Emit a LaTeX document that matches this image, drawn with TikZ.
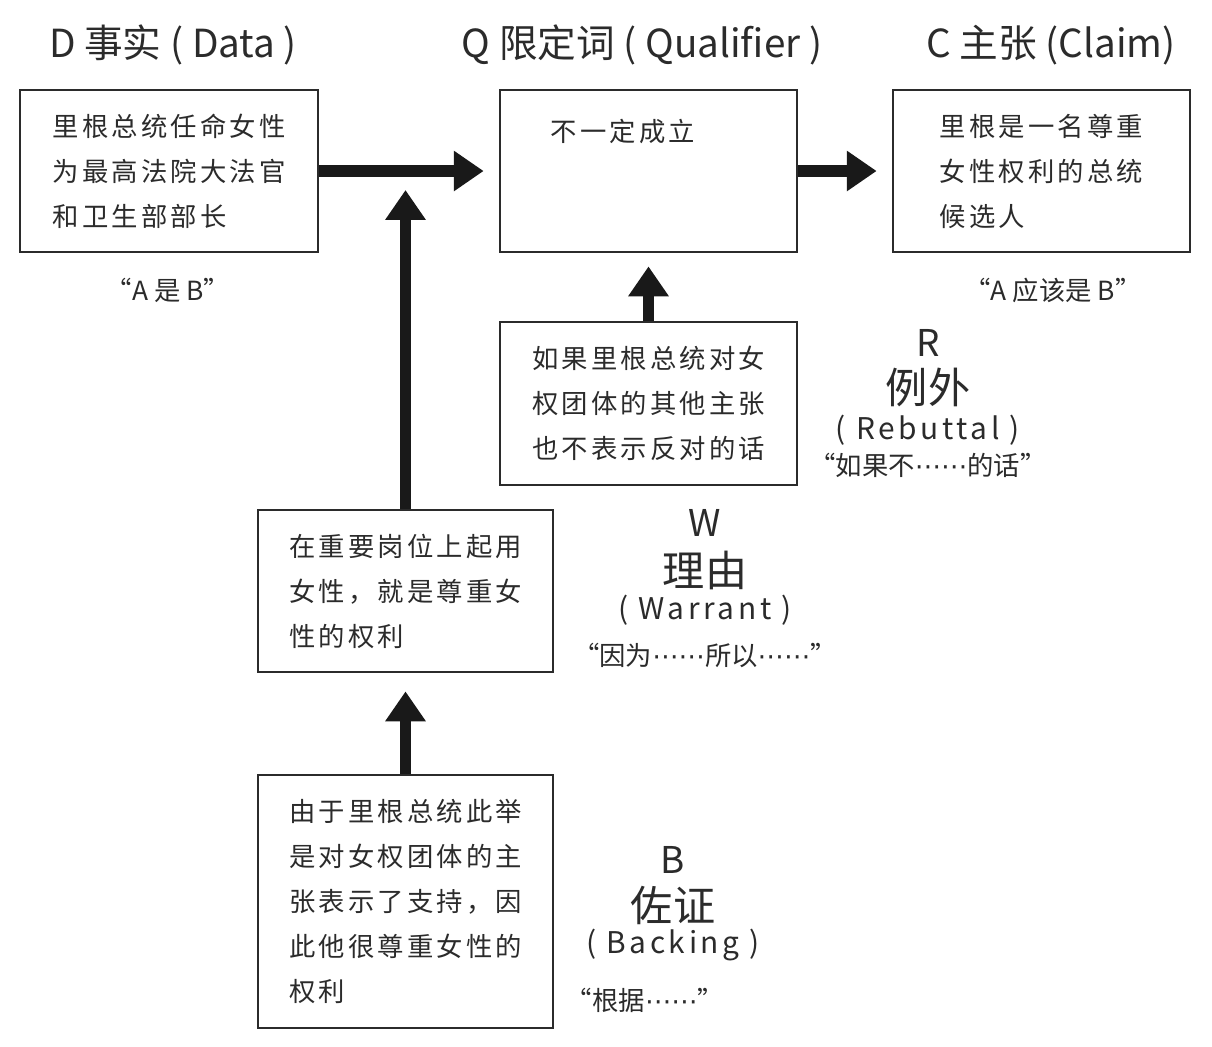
\documentclass[tikz,border=0pt]{standalone}
\usepackage{fontspec}
\setmainfont{Noto Sans CJK SC}
\newfontfamily\boxfont[LetterSpace=12]{Noto Sans CJK SC}
\newfontfamily\dotsfont{DejaVu Sans}
\newcommand\middots{{\dotsfont ⋯⋯}}
\usetikzlibrary{arrows.meta}
\usetikzlibrary{positioning}
\definecolor{ink}{HTML}{2B2B2B}
\tikzset{box/.style = {draw=ink, line width=1.6pt, inner sep=0, align=left, text=ink,
                       font=\boxfont\fontsize{15}{25.6}\selectfont}}
\tikzset{bigarrow/.style = {draw=black!90, line width=6.6pt,
                            -{Triangle[width=22pt, length=17pt]}}}
\tikzset{title/.style = {text=ink, font=\fontsize{22}{26}\selectfont}}
\tikzset{letter/.style = {text=ink, font=\fontsize{21}{24}\selectfont}}
\tikzset{term/.style = {text=ink, font=\fontsize{24}{28}\selectfont}}
\tikzset{english/.style = {text=ink, font=\boxfont\fontsize{17}{20}\selectfont}}
\tikzset{saying/.style = {text=ink, font=\fontsize{15}{18}\selectfont}}

\begin{document}
\begin{tikzpicture}[x=0.02cm, y=-0.02cm]
  \useasboundingbox (0,0) rectangle (1212,1046);
  % titles
  \node [title] (Dtitle) at (173, 45) {D 事实 ( Data )};
  \node [title] (Qtitle) at (642, 45) {Q 限定词 ( Qualifier )};
  \node [title] (Ctitle) at (1051, 45) {C 主张 (Claim)};
  % top row
  \node [box, minimum width=5.96cm, minimum height=3.24cm] (D) at (169, 171)
        {里根总统任命女性\\为最高法院大法官\\和卫生部部长};
  \node [box, minimum width=5.94cm, minimum height=3.24cm] (Q) at (648.5, 171) {};
  \node [box, draw=none] (Qtext) at (623, 131) {不一定成立};
  \node [box, minimum width=5.94cm, minimum height=3.24cm] (C) at (1041.5, 171)
        {里根是一名尊重\\女性权利的总统\\候选人};
  \node [saying] (Dsay) at (168, 290) {“A 是 B”};
  \node [saying] (Csay) at (1053, 290) {“A 应该是 B”};
  % rebuttal
  \node [box, minimum width=5.94cm, minimum height=3.26cm] (R) at (648.5, 403.5)
        {如果里根总统对女\\权团体的其他主张\\也不表示反对的话};
  \node [letter] (Rletter) at (928, 343) {R};
  \node [term] (Rterm) at (928, 387) {例外};
  \node [english] (Reng) at (928, 430) {( Rebuttal )};
  \node [saying] (Rsay) at (928, 465) {“如果不\middots 的话”};
  % warrant
  \node [box, minimum width=5.9cm, minimum height=3.24cm] (W) at (405.5, 591)
        {在重要岗位上起用\\女性，就是尊重女\\性的权利};
  \node [letter] (Wletter) at (705, 523) {W};
  \node [term] (Wterm) at (705, 570) {理由};
  \node [english] (Weng) at (705, 610) {( Warrant )};
  \node [saying] (Wsay) at (705, 655) {“因为\middots 所以\middots ”};
  % backing
  \node [box, minimum width=5.9cm, minimum height=5.06cm] (B) at (405.5, 901.5)
        {由于里根总统此举\\是对女权团体的主\\张表示了支持，因\\此他很尊重女性的\\权利};
  \node [letter] (Bletter) at (673, 860) {B};
  \node [term] (Bterm) at (673, 905) {佐证};
  \node [english] (Beng) at (673, 945) {( Backing )};
  \node [saying] (Bsay) at (645, 1000) {“根据\middots ”};
  % arrows
  \coordinate (WQ) at (W.north |- D.east);
  \draw [bigarrow, shorten >=0.3cm] (D) -- (Q);
  \draw [bigarrow, shorten >=0.3cm] (Q) -- (C);
  \draw [bigarrow, shorten >=0.38cm] (W.north) -- (WQ);
  \draw [bigarrow, shorten >=0.26cm] (R) -- (Q);
  \draw [bigarrow, shorten >=0.36cm] (B) -- (W);
\end{tikzpicture}
\end{document}
